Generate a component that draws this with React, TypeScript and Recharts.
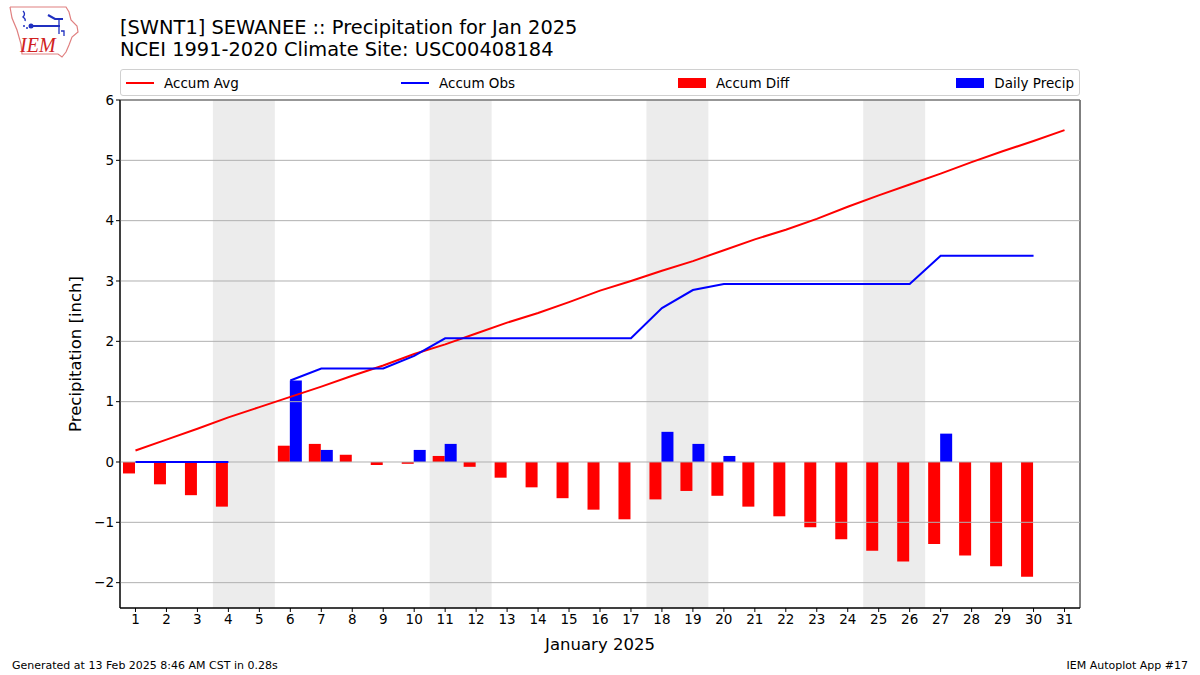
import React from 'react';
import {
  ComposedChart,
  Bar,
  Line,
  XAxis,
  YAxis,
  ReferenceArea,
  ReferenceLine,
} from 'recharts';

const days = [1, 2, 3, 4, 5, 6, 7, 8, 9, 10, 11, 12, 13, 14, 15, 16, 17, 18, 19, 20, 21, 22, 23, 24, 25, 26, 27, 28, 29, 30, 31];
const accumAvg = [0.19, 0.37, 0.55, 0.74, 0.91, 1.08, 1.25, 1.43, 1.6, 1.79, 1.95, 2.13, 2.31, 2.47, 2.65, 2.84, 3.0, 3.17, 3.33, 3.51, 3.69, 3.85, 4.03, 4.23, 4.42, 4.6, 4.78, 4.97, 5.15, 5.32, 5.5];
const accumObs = [0, 0, 0, 0, null, 1.35, 1.55, 1.55, 1.55, 1.76, 2.05, 2.05, 2.05, 2.05, 2.05, 2.05, 2.05, 2.55, 2.85, 2.95, 2.95, 2.95, 2.95, 2.95, 2.95, 2.95, 3.42, 3.42, 3.42, 3.42, null];
const accumDiff = [-0.19, -0.37, -0.55, -0.74, null, 0.27, 0.3, 0.12, -0.05, -0.03, 0.1, -0.08, -0.26, -0.42, -0.6, -0.79, -0.95, -0.62, -0.48, -0.56, -0.74, -0.9, -1.08, -1.28, -1.47, -1.65, -1.36, -1.55, -1.73, -1.9, null];
const dailyPrecip = [0, 0, 0, 0, null, 1.35, 0.2, 0, 0, 0.2, 0.3, 0, 0, 0, 0, 0, 0, 0.5, 0.3, 0.1, 0, 0, 0, 0, 0, 0, 0.47, 0, 0, 0, null];
const weekends = [[3.5, 5.5], [10.5, 12.5], [17.5, 19.5], [24.5, 26.5]];
const yTicks = [-2, -1, 0, 1, 2, 3, 4, 5, 6];
const legendItems = [
  { name: 'Accum Avg', color: '#ff0000', kind: 'line' },
  { name: 'Accum Obs', color: '#0000ff', kind: 'line' },
  { name: 'Accum Diff', color: '#ff0000', kind: 'patch' },
  { name: 'Daily Precip', color: '#0000ff', kind: 'patch' },
];

const data = days.map((d, i) => ({
  day: d,
  avg: accumAvg[i],
  obs: accumObs[i],
  diff: accumDiff[i],
  precip: dailyPrecip[i],
}));

const FONT = '"DejaVu Sans", sans-serif';
const fmt = (v: number) => (v < 0 ? '\u2212' + Math.abs(v) : String(v));

const Logo = () => (
  <svg width={90} height={65} style={{ position: 'absolute', left: 0, top: 0 }}>
    <polyline
      points="10,7 66,7 69,12 71,20 77,26 78,32 72,37 69,45 66,52 62,57 58,54 22,54 21,44 17,30 12,18 10,7"
      fill="none"
      stroke="#e08080"
      strokeWidth={1.2}
    />
    <path d="M23,11 q3,3 0,6 q3,2 2,4" stroke="#2030c0" fill="none" strokeWidth={1.3} />
    <line x1={31} y1={26} x2={60} y2={26} stroke="#2030c0" strokeWidth={2} />
    <circle cx={31} cy={26} r={2.5} fill="#2030c0" />
    <path d="M48,15 l7,4 l8,0" stroke="#2030c0" fill="none" strokeWidth={2.2} />
    <line x1={59} y1={19} x2={59} y2={34} stroke="#2030c0" strokeWidth={1.3} />
    <path d="M61,31 l3,0 l0,5" stroke="#2030c0" fill="none" strokeWidth={1.3} />
    <circle cx={24} cy={26} r={1} fill="#2030c0" />
    <circle cx={27} cy={28} r={1} fill="#2030c0" />
    <text x={20} y={52} fontFamily="'Liberation Serif', serif" fontStyle="italic" fontSize={20} fill="#d02020">
      IEM
    </text>
  </svg>
);

export default function App() {
  return (
    <div style={{ position: 'absolute', left: 0, top: 0, width: 1200, height: 675, background: '#fff', fontFamily: FONT }}>
      <Logo />
      <div style={{ position: 'absolute', left: 120, top: 17, fontSize: 19.4, lineHeight: '22px', color: '#000', whiteSpace: 'nowrap' }}>
        <div>[SWNT1] SEWANEE :: Precipitation for Jan 2025</div>
        <div>NCEI 1991-2020 Climate Site: USC00408184</div>
      </div>
      <div
        style={{
          position: 'absolute',
          left: 120,
          top: 69,
          width: 958,
          height: 25,
          border: '1px solid #d0d0d0',
          borderRadius: 3,
          fontSize: 13.5,
        }}
      >
        {legendItems.map((it, i) => (
          <div
            key={it.name}
            style={{
              position: 'absolute',
              top: 0,
              height: 25,
              display: 'flex',
              alignItems: 'center',
              left: i === 3 ? undefined : [5, 280, 557][i],
              right: i === 3 ? 5 : undefined,
              whiteSpace: 'nowrap',
            }}
          >
            {it.kind === 'line' ? (
              <div style={{ width: 28, height: 2, background: it.color, marginRight: 10 }} />
            ) : (
              <div style={{ width: 28, height: 10, background: it.color, marginRight: 10 }} />
            )}
            <span>{it.name}</span>
          </div>
        ))}
      </div>
      <div style={{ position: 'absolute', left: 0, top: 0 }}>
        <ComposedChart
          width={1200}
          height={675}
          data={data}
          margin={{ top: 100, right: 120, bottom: 22, left: 70 }}
          barGap={0}
        >
          <XAxis
            dataKey="day"
            type="number"
            domain={[0.5, 31.5]}
            ticks={days}
            interval={0}
            allowDataOverflow
            height={45}
            tickSize={4}
            tickLine={{ stroke: '#000' }}
            axisLine={{ stroke: '#000' }}
            tick={{ fill: '#000', fontSize: 13.5, fontFamily: FONT }}
            label={{ value: 'January 2025', position: 'insideBottom', offset: 3, fill: '#000', fontSize: 16.5, fontFamily: FONT }}
          />
          <YAxis
            type="number"
            domain={[-2.42, 6]}
            ticks={yTicks}
            interval={0}
            allowDataOverflow
            width={50}
            tickSize={4}
            tickLine={{ stroke: '#000' }}
            axisLine={{ stroke: '#000' }}
            tickFormatter={fmt}
            tick={{ fill: '#000', fontSize: 13.5, fontFamily: FONT }}
            label={{ value: 'Precipitation [inch]', angle: -90, position: 'insideLeft', offset: 0, dx: 5, fill: '#000', fontSize: 16.5, fontFamily: FONT, style: { textAnchor: 'middle' } }}
          />
          {weekends.map(([a, b]) => (
            <ReferenceArea key={a} x1={a} x2={b} y1={-2.42} y2={6} fill="#ececec" fillOpacity={1} stroke="none" ifOverflow="hidden" />
          ))}
          {yTicks.map((t) => (
            <ReferenceLine key={t} y={t} stroke="#b0b0b0" strokeWidth={1} />
          ))}
          <Bar dataKey="diff" name="Accum Diff" fill="#ff0000" barSize={12} isAnimationActive={false} />
          <Bar dataKey="precip" name="Daily Precip" fill="#0000ff" barSize={12} isAnimationActive={false} />
          <Line dataKey="avg" name="Accum Avg" stroke="#ff0000" strokeWidth={2} dot={false} isAnimationActive={false} />
          <Line dataKey="obs" name="Accum Obs" stroke="#0000ff" strokeWidth={2} dot={false} connectNulls={false} isAnimationActive={false} />
          <ReferenceArea x1={0.5} x2={31.5} y1={-2.42} y2={6} fill="none" stroke="#000" strokeWidth={1} ifOverflow="visible" />
        </ComposedChart>
      </div>
      <div style={{ position: 'absolute', left: 12, top: 659, fontSize: 11, whiteSpace: 'nowrap' }}>
        Generated at 13 Feb 2025 8:46 AM CST in 0.28s
      </div>
      <div style={{ position: 'absolute', right: 12, top: 659, fontSize: 11, whiteSpace: 'nowrap' }}>
        IEM Autoplot App #17
      </div>
    </div>
  );
}
